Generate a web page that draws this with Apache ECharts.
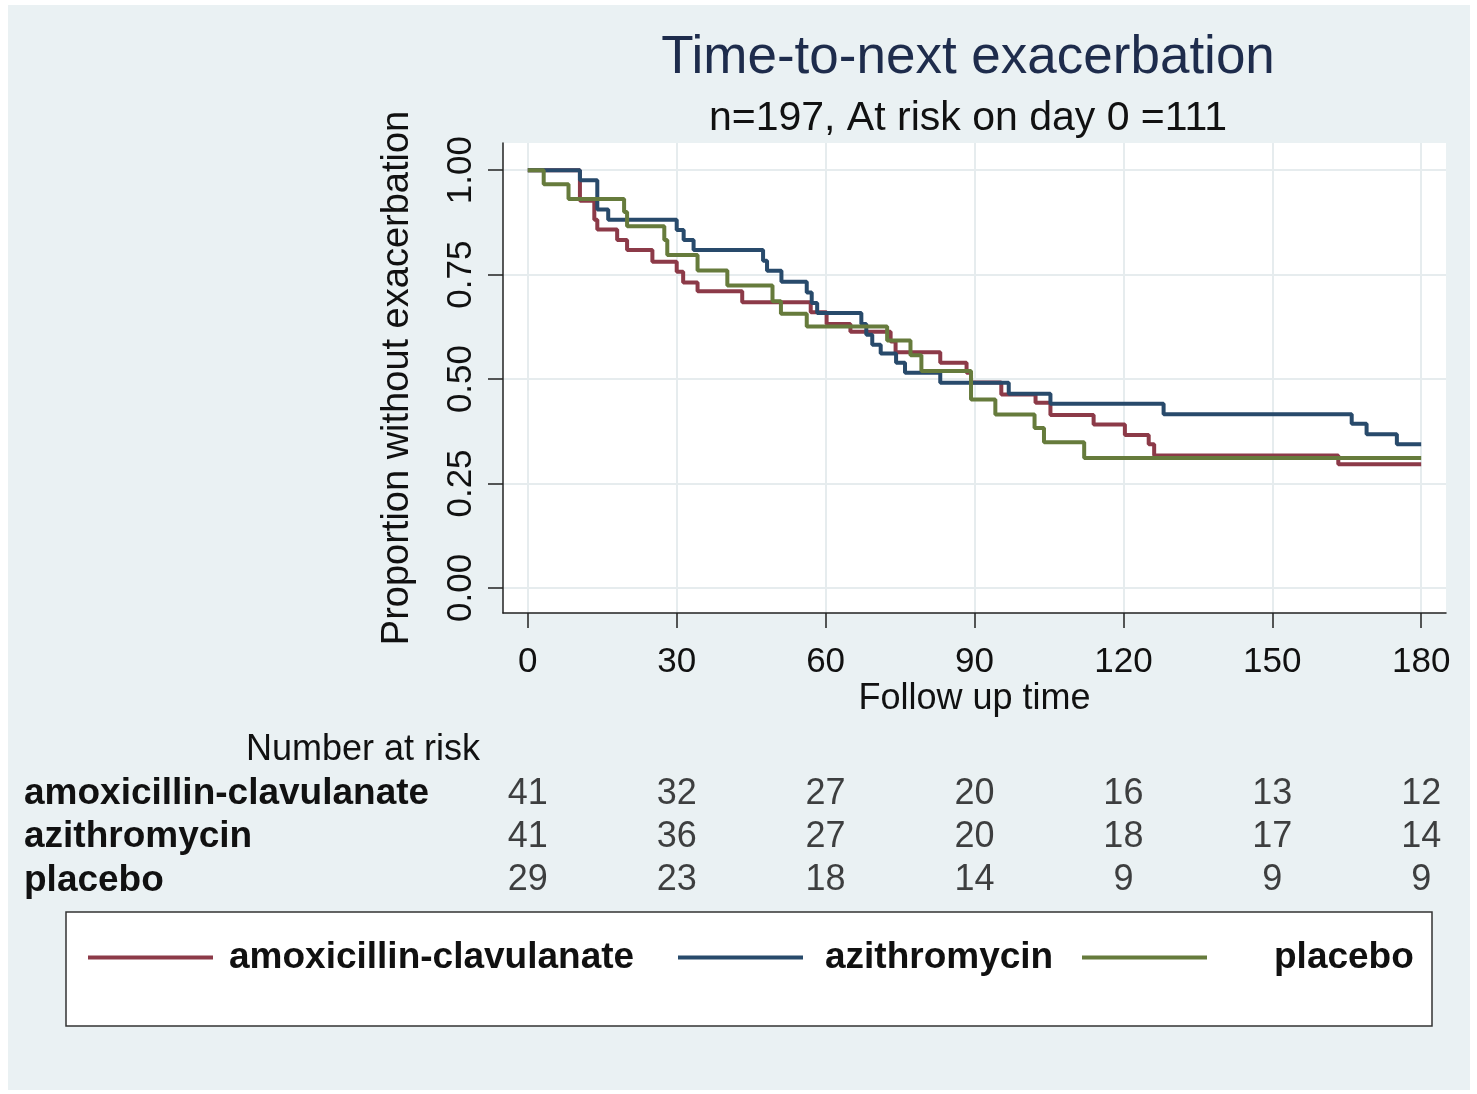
<!DOCTYPE html>
<html>
<head>
<meta charset="utf-8">
<script src="https://cdn.jsdelivr.net/npm/echarts@6/dist/echarts.min.js"></script>
<style>
html,body{margin:0;padding:0;background:#fff;}
#bg{position:absolute;left:8px;top:5px;width:1462px;height:1085px;background:#EAF1F3;}
#chart{position:absolute;left:0;top:0;width:1477px;height:1094px;}
</style>
</head>
<body>
<div id="bg"></div>
<div id="chart"></div>
<script>
// ---- Data ----
const groupNames = ['amoxicillin-clavulanate', 'azithromycin', 'placebo'];

const amoxTime = [0, 10.5, 13.4, 14, 18, 20, 25.1, 30, 31.3, 34.2, 43.2, 57, 60.2, 65, 73.1, 74.1, 83.1, 88.4, 89.3, 95.4, 102.3, 105.3, 114, 120.3, 125.1, 126.2, 163.3, 180];
const amoxSurv = [1, 0.927, 0.881, 0.858, 0.833, 0.809, 0.781, 0.757, 0.731, 0.710, 0.684, 0.660, 0.632, 0.613, 0.590, 0.564, 0.539, 0.515, 0.492, 0.463, 0.443, 0.414, 0.391, 0.366, 0.344, 0.317, 0.296, 0.296];

const aziTime = [0, 10.5, 14, 16.2, 30, 31.4, 33.4, 47.4, 48.2, 51.1, 56.2, 57.2, 58.3, 67.2, 68.2, 69.4, 71.1, 74.2, 76, 83.1, 96.9, 105.3, 128.1, 166, 169, 175.1, 180];
const aziSurv = [1, 0.976, 0.906, 0.881, 0.857, 0.833, 0.809, 0.783, 0.759, 0.733, 0.707, 0.682, 0.658, 0.632, 0.606, 0.582, 0.561, 0.539, 0.515, 0.491, 0.465, 0.441, 0.416, 0.393, 0.368, 0.344, 0.344];

const placTime = [0, 3.2, 8.2, 19.4, 20, 27.5, 28.1, 34.2, 40.2, 49.3, 51, 56.2, 72.4, 77.1, 79.3, 89.3, 94.2, 102.1, 104, 112.1, 180];
const placSurv = [1, 0.966, 0.931, 0.900, 0.866, 0.833, 0.797, 0.760, 0.724, 0.686, 0.656, 0.626, 0.592, 0.557, 0.519, 0.451, 0.415, 0.383, 0.349, 0.311, 0.311];

const xTicks = [0, 30, 60, 90, 120, 150, 180];
const yTicks = [0, 0.25, 0.5, 0.75, 1];

const riskTimes = [0, 30, 60, 90, 120, 150, 180];
const riskAmox = [41, 32, 27, 20, 16, 13, 12];
const riskAzi = [41, 36, 27, 20, 18, 17, 14];
const riskPlac = [29, 23, 18, 14, 9, 9, 9];

const colors = ['#8C3A48', '#284A6B', '#667B3C'];
const FONT = '"Liberation Sans", Arial, sans-serif';

// ---- Build ----
const pairs = (t, s) => t.map((v, i) => [v, s[i]]);
const riskRow = (name, arr) => riskTimes.map((t, i) => [t, name, arr[i]]);

const curveSeries = [
  {name: groupNames[0], data: pairs(amoxTime, amoxSurv), color: colors[0]},
  {name: groupNames[1], data: pairs(aziTime, aziSurv), color: colors[1]},
  {name: groupNames[2], data: pairs(placTime, placSurv), color: colors[2]}
].map(s => ({
  type: 'line', name: s.name, xAxisIndex: 0, yAxisIndex: 0,
  step: 'end', symbol: 'none', data: s.data,
  itemStyle: {color: s.color},
  lineStyle: {color: s.color, width: 4}
}));

const riskSeries = [
  ['r0', groupNames[0], riskAmox], ['r1', groupNames[1], riskAzi], ['r2', groupNames[2], riskPlac]
].map(r => ({
  type: 'scatter', name: r[0], xAxisIndex: 1, yAxisIndex: 1,
  symbolSize: 1, itemStyle: {color: 'rgba(0,0,0,0)'}, silent: true,
  data: riskRow(r[1], r[2]),
  labelLayout: {hideOverlap: false},
  label: {show: true, position: 'inside', formatter: p => String(p.value[2]),
          fontSize: 36, color: '#111', fontFamily: FONT}
}));

const legendItem = (name, left, pad) => ({
  data: [name], left: left, top: 939, orient: 'horizontal', padding: 0,
  icon: 'rect', itemWidth: 125, itemHeight: 4,
  selectedMode: false,
  textStyle: {fontSize: 37, fontWeight: 'bold', color: '#111', fontFamily: FONT, padding: [0, 0, 0, pad]}
});

const option = {
  backgroundColor: 'transparent',
  animation: false,
  textStyle: {fontFamily: FONT},
  grid: [
    {left: 503, top: 143, width: 943, height: 470, show: true, backgroundColor: '#fff', borderWidth: 0, outerBoundsMode: 'none'},
    {left: 503, top: 772, width: 943, height: 130, show: false, outerBoundsMode: 'none'}
  ],
  xAxis: [
    {type: 'value', gridIndex: 0, min: -5, max: 185,
     name: 'Follow up time', nameLocation: 'middle', nameGap: 68,
     nameTextStyle: {fontSize: 36, color: '#111', fontFamily: FONT},
     axisLine: {show: true, onZero: false, lineStyle: {color: '#222', width: 1.5}},
     axisTick: {show: true, length: 15, customValues: xTicks, lineStyle: {color: '#222', width: 1.5}},
     axisLabel: {customValues: xTicks, fontSize: 35, color: '#111', margin: 32, fontFamily: FONT},
     splitLine: {show: true, lineStyle: {color: '#E6ECEE', width: 2}}},
    {type: 'value', gridIndex: 1, min: -5, max: 185, show: false}
  ],
  yAxis: [
    {type: 'value', gridIndex: 0, min: -0.06, max: 1.065,
     name: 'Proportion without exacerbation', nameLocation: 'middle', nameGap: 86, nameRotate: 90,
     nameTextStyle: {fontSize: 38, color: '#111', fontFamily: FONT},
     axisLine: {show: true, onZero: false, lineStyle: {color: '#222', width: 1.5}},
     axisTick: {show: true, length: 15, customValues: yTicks, lineStyle: {color: '#222', width: 1.5}},
     axisLabel: {customValues: yTicks, rotate: 90, fontSize: 35, color: '#111', margin: 24, fontFamily: FONT,
                 formatter: v => Number(v).toFixed(2)},
     splitLine: {show: true, lineStyle: {color: '#E6ECEE', width: 2}}},
    {type: 'category', gridIndex: 1, data: groupNames, inverse: true,
     axisLine: {show: false}, axisTick: {show: false}, splitLine: {show: false},
     axisLabel: {show: true, interval: 0, hideOverlap: false, align: 'left', margin: 479, fontSize: 37, fontWeight: 'bold', color: '#111', fontFamily: FONT}}
  ],
  legend: [
    legendItem(groupNames[0], 88, 11),
    legendItem(groupNames[1], 678, 17),
    legendItem(groupNames[2], 1082, 62)
  ],
  graphic: [
    {type: 'text', x: 968, y: 58, style: {text: 'Time-to-next exacerbation', font: '53px ' + FONT, fill: '#1E2C4C', align: 'center', verticalAlign: 'middle'}},
    {type: 'text', x: 968, y: 119, style: {text: 'n=197, At risk on day 0 =111', font: '41px ' + FONT, fill: '#111', align: 'center', verticalAlign: 'middle'}},
    {type: 'text', x: 480, y: 750, style: {text: 'Number at risk', font: '36px ' + FONT, fill: '#111', align: 'right', verticalAlign: 'middle'}},
    {type: 'rect', shape: {x: 66, y: 912, width: 1366, height: 114}, z: -1,
     style: {fill: '#fff', stroke: '#333', lineWidth: 1.5}}
  ],
  series: curveSeries.concat(riskSeries)
};

const chart = echarts.init(document.getElementById('chart'), null, {renderer: 'canvas'});
chart.setOption(option);
</script>
</body>
</html>
